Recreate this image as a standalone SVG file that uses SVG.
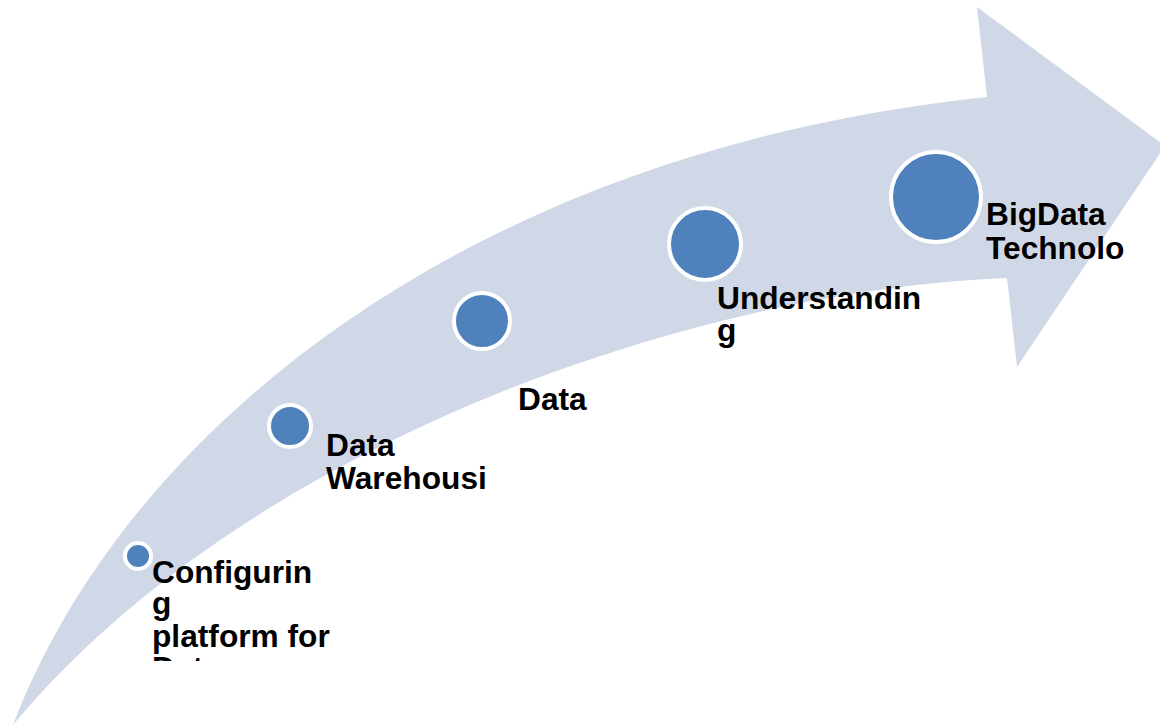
<svg xmlns="http://www.w3.org/2000/svg" width="1160" height="725" viewBox="0 0 1160 725">
<style>
.dot{fill:#4F81BD;stroke:#FFFFFF;stroke-width:4}
.lbl{font-family:"Liberation Sans",Arial,sans-serif;font-weight:bold;font-size:31.7px;fill:#000000}
</style>
<defs>
<clipPath id="clipCfg"><rect x="140" y="540" width="220" height="121"/></clipPath>
</defs>
<rect width="1160" height="725" fill="#FFFFFF"/>
<g id="connectors">
<path id="arrow" d="M 13,725 C 130,420 480,150 987,97 L 977,7 L 1165,146 L 1017,367 L 1007,278 C 700,290 250,440 13,725 Z" fill="#D0D8E8"/>
</g>
<g id="node1">
<circle class="dot" cx="138" cy="556" r="13"/>
<g clip-path="url(#clipCfg)">
<text class="lbl" x="152" y="583">Configurin</text>
<text class="lbl" x="152" y="614">g</text>
<text class="lbl" x="152" y="647">platform for</text>
<text class="lbl" x="152" y="679">Data</text>
</g>
</g>
<g id="node2">
<circle class="dot" cx="290" cy="426" r="21"/>
<text class="lbl" x="326" y="456">Data</text>
<text class="lbl" x="326" y="489">Warehousi</text>
</g>
<g id="node3">
<circle class="dot" cx="482" cy="321" r="28"/>
<text class="lbl" x="518" y="410">Data</text>
</g>
<g id="node4">
<circle class="dot" cx="705" cy="244" r="36"/>
<text class="lbl" x="717" y="309">Understandin</text>
<text class="lbl" x="717" y="341">g</text>
</g>
<g id="node5">
<circle class="dot" cx="936" cy="197" r="45"/>
<text class="lbl" x="986" y="225">BigData</text>
<text class="lbl" x="986" y="259">Technolo</text>
</g>
</svg>
